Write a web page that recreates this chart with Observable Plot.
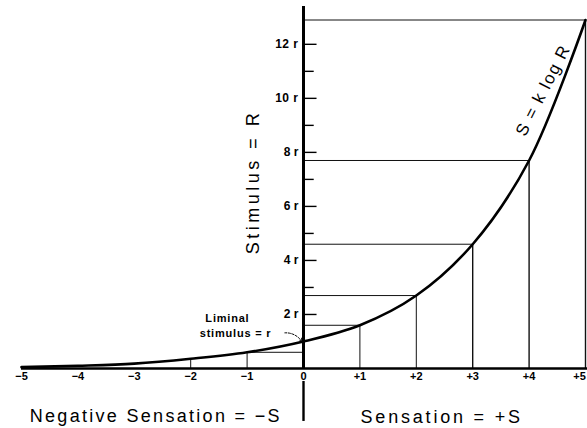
<!DOCTYPE html>
<html><head><meta charset="utf-8">
<script src="https://cdn.jsdelivr.net/npm/d3@7"></script>
<script src="https://cdn.jsdelivr.net/npm/@observablehq/plot@0.6"></script>
<style>
body{margin:0;background:#fff;}
#chart svg{display:block;}
</style></head><body><div id="chart"></div>
<script>
// Sensation (S) and stimulus (R, in units of r)
const sensation = [-5, -4, -3, -2, -1, 0, 1, 2, 3, 4, 5];
const stimulus  = [0.05, 0.1, 0.18, 0.36, 0.6, 1, 1.6, 2.7, 4.6, 7.7, 12.9];
const xTicks = [-5, -4, -3, -2, -1, 0, 1, 2, 3, 4, 5];
const xTickLabels = ["−5", "−4", "−3", "−2", "−1", "0", "+1", "+2", "+3", "+4", "+5"];
const yMajorTicks = [2, 4, 6, 8, 10, 12];
const yMajorLabels = ["2 r", "4 r", "6 r", "8 r", "10 r", "12 r"];
const yMinorTicks = [3, 5, 7, 9, 11];
const verticalGuides = [-2, -1, 1, 2, 3, 4, 5];
const horizontalGuides = [-1, 1, 2, 3, 4, 5];

const pts = sensation.map((s, i) => ({s, r: stimulus[i]}));
const at = s => pts.find(p => p.s === s);
const vert = verticalGuides.map(at);
const horiz = horizontalGuides.map(at);
const xTickIdx = xTicks.map((d, i) => i);

const font = "'Liberation Sans', Arial, Helvetica, sans-serif";

const chart = Plot.plot({
  width: 587, height: 428,
  marginLeft: 21, marginRight: 2, marginTop: 6, marginBottom: 60,
  x: {domain: [-5, 5], axis: null},
  y: {domain: [0, 13.4], axis: null},
  style: {fontFamily: font, background: "white", color: "black"},
  marks: [
    // guide lines
    Plot.ruleX(vert, {x: "s", y1: 0, y2: "r", strokeWidth: d => d.s >= 3 ? 1.4 : 1, stroke: "#111"}),
    Plot.ruleY(horiz, {y: "r", x1: 0, x2: "s", strokeWidth: 1, stroke: "#111"}),
    // axes
    Plot.ruleY([0], {x1: -5, x2: 5.1, strokeWidth: 2.6}),
    Plot.ruleX([0], {y1: 0, y2: 13.4, strokeWidth: 3}),
    Plot.ruleX([0], {y1: -0.48, y2: -1.96, strokeWidth: 2.4}),
    Plot.ruleY(yMajorTicks, {y: d => d, x1: 0, x2: 0.24, strokeWidth: 1.4}),
    Plot.ruleY(yMinorTicks, {y: d => d, x1: 0, x2: 0.19, strokeWidth: 1.4}),
    Plot.text(yMajorTicks, {x: 0, y: d => d, text: (d, i) => yMajorLabels[i], textAnchor: "end", dx: -5, fontWeight: 900, fontSize: 12}),
    Plot.text(xTickIdx.filter(i => xTicks[i] < 5), {x: i => xTicks[i], y: 0, text: i => xTickLabels[i], dy: 8, fontWeight: 900, fontSize: 11}),
    Plot.text(xTickIdx.filter(i => xTicks[i] === 5), {x: i => xTicks[i], y: 0, text: i => xTickLabels[i], dy: 8, dx: -6, fontWeight: 900, fontSize: 11}),
    // curve
    Plot.line(pts, {x: "s", y: "r", curve: "catmull-rom", strokeWidth: 2.6}),
    // labels
    Plot.text(["Stimulus = R"], {x: -0.89, y: 6.9, text: d => d, rotate: -90, fontSize: 18}),
    Plot.text(["S = k log R"], {x: 4.25, y: 10.3, text: d => d, rotate: -63, fontSize: 17}),
    Plot.text(["Negative Sensation = −S"], {x: -2.62, y: -1.78, text: d => d, fontSize: 18}),
    Plot.text(["Sensation = +S"], {x: 2.45, y: -1.8, text: d => d, fontSize: 18}),
    Plot.text(["Liminal"], {x: -1.74, y: 1.85, text: d => d, textAnchor: "start", fontSize: 11, fontWeight: "bold"}),
    Plot.text(["stimulus = r"], {x: -1.84, y: 1.3, text: d => d, textAnchor: "start", fontSize: 11, fontWeight: "bold"}),
    Plot.arrow([0], {x1: -0.33, y1: 1.32, x2: -0.03, y2: 1.0, bend: 30, strokeWidth: 1, headLength: 5, strokeDasharray: "2,1.5"})
  ]
});
const spacing = {"Stimulus = R": "3.5px", "Negative Sensation = −S": "2.3px", "Sensation = +S": "2.8px", "S = k log R": "1.5px", "Liminal": "0.8px", "stimulus = r": "0.8px", "12 r": "0.5px", "10 r": "0.5px"};
d3.select(chart).selectAll("text").each(function() {
  const s = spacing[this.textContent];
  if (s) this.setAttribute("letter-spacing", s);
});
document.getElementById("chart").appendChild(chart);
</script>
</body></html>
